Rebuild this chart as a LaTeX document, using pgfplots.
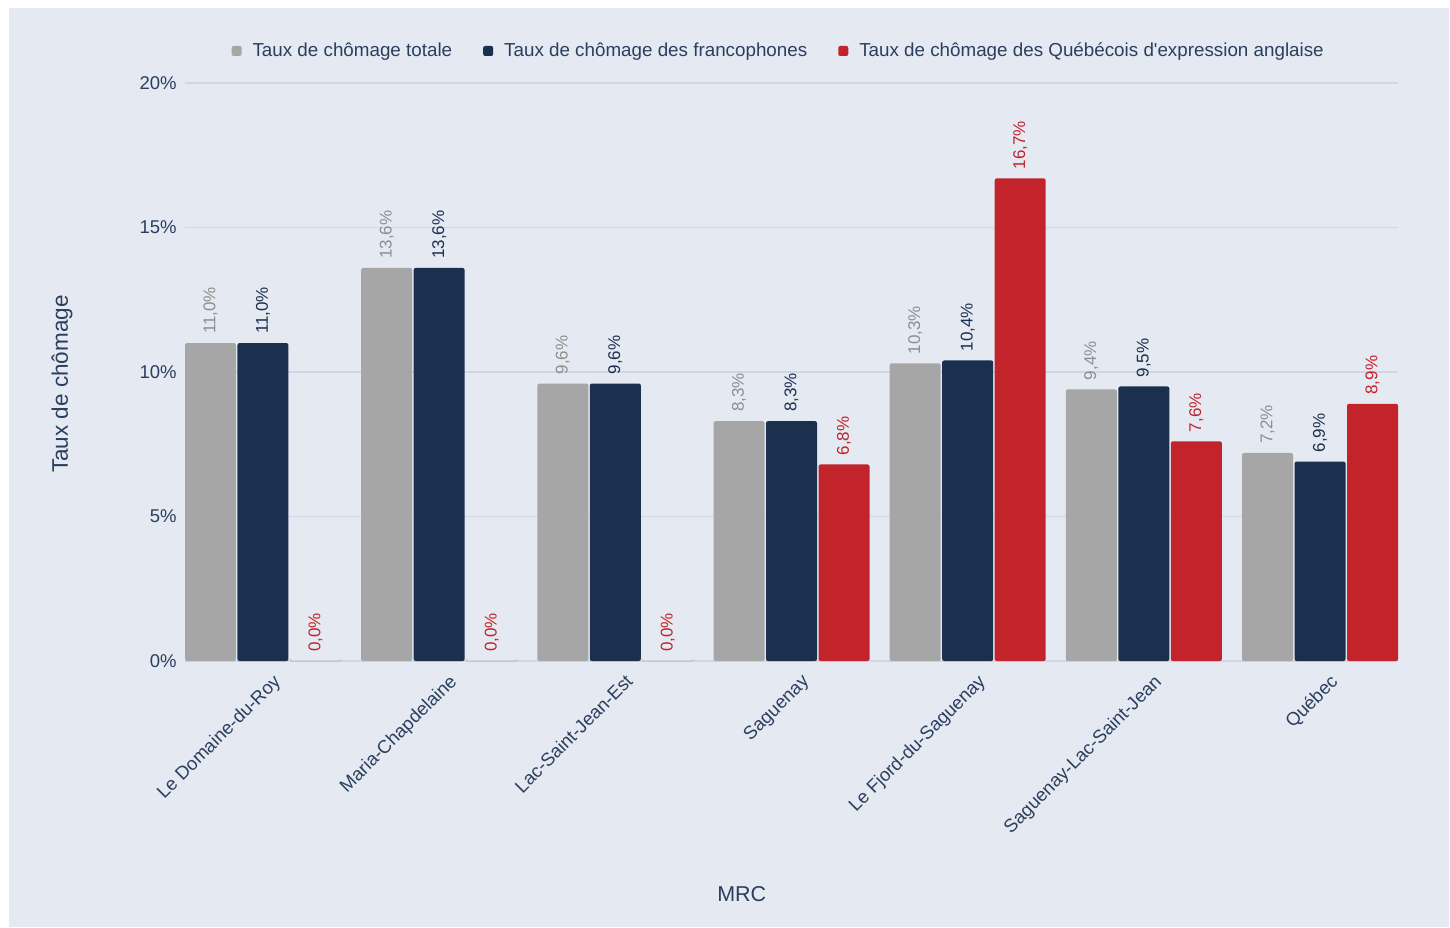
\documentclass[border=0pt]{standalone}
\usepackage{pgfplots}
\pgfplotsset{compat=1.18}
\usepackage{fontspec}
\setmainfont{Liberation Sans}
\definecolor{bg}{HTML}{E5E9F1}
\definecolor{gridc}{HTML}{D1D7E1}
\definecolor{txt}{HTML}{2A3F5F}
\definecolor{cgrey}{HTML}{A6A6A6}
\definecolor{glab}{HTML}{8E8E8E}
\definecolor{cnavy}{HTML}{1B2F4F}
\definecolor{cred}{HTML}{C3232A}
\begin{document}
\fontsize{18.5}{22}\selectfont
\begin{tikzpicture}[x=1pt,y=1pt]
\path[use as bounding box] (0,0) rectangle (1450,-927);
\fill[white] (0,0) rectangle (1450,-927);
\fill[bg] (9,-8) rectangle (1449,-927);
\begin{axis}[
  at={(185pt,-661pt)}, anchor=south west,
  scale only axis, width=1213pt, height=578pt,
  xmin=-0.4426, xmax=6.4426, ymin=0, ymax=20,
  ybar=1.5pt, bar width=51pt,
  /pgf/number format/assume math mode=true,
  axis line style={draw=none},
  major tick length=0pt,
  ymajorgrids, grid style={line width=1.3pt, gridc},
  ytick={0,5,10,15,20},
  yticklabels={0\%,5\%,10\%,15\%,20\%},
  xtick={0,...,6},
  xticklabels={Le Domaine-du-Roy,Maria-Chapdelaine,Lac-Saint-Jean-Est,Saguenay,Le Fjord-du-Saguenay,Saguenay-Lac-Saint-Jean,Québec},
  ticklabel style={font=\fontsize{18.5}{22}\selectfont, text=txt},
  yticklabel style={xshift=-2pt},
  xticklabel style={xshift=9pt, yshift=-12pt, rotate=45, anchor=north east, inner sep=0pt},
  xlabel={MRC}, ylabel={Taux de chômage},
  label style={font=\fontsize{21.5}{26}\selectfont, text=txt},
  xlabel style={at={(axis description cs:0.459,-0.403)}, anchor=center},
  ylabel style={at={(axis description cs:-0.1014,0.479)}, anchor=center, rotate=0, font=\fontsize{22.5}{26}\selectfont},
  nodes near coords={\pgfmathprintnumber[fixed,fixed zerofill,precision=1,use comma,assume math mode=true]{\pgfplotspointmeta}\%},
  every node near coord/.append style={rotate=90, anchor=west, inner sep=0pt, inner xsep=9pt, font=\fontsize{17}{20}\selectfont},
  legend style={at={(0.489,1.0554)}, anchor=center, draw=none, fill=none,
    font=\fontsize{18.8}{22}\selectfont, text=txt,
    /tikz/every even column/.append style={column sep=30pt},
    nodes={inner sep=1pt}},
  legend columns=3,
  legend image code/.code={\fill[#1] (0pt,-5pt) rectangle (10pt,5pt); \path (20pt,0pt);},
]
\addplot[fill=cgrey, draw=none, rounded corners=2pt, every node near coord/.append style={text=glab}] coordinates {(0,11.0) (1,13.6) (2,9.6) (3,8.3) (4,10.3) (5,9.4) (6,7.2)};
\addlegendentry{Taux de chômage totale}
\addplot[fill=cnavy, draw=none, rounded corners=2pt, every node near coord/.append style={text=cnavy}] coordinates {(0,11.0) (1,13.6) (2,9.6) (3,8.3) (4,10.4) (5,9.5) (6,6.9)};
\addlegendentry{Taux de chômage des francophones}
\addplot[fill=cred, draw=none, rounded corners=2pt, every node near coord/.append style={text=cred}] coordinates {(0,0.0) (1,0.0) (2,0.0) (3,6.8) (4,16.7) (5,7.6) (6,8.9)};
\addlegendentry{Taux de chômage des Québécois d\textquotesingle expression anglaise}
\end{axis}
\end{tikzpicture}
\end{document}
